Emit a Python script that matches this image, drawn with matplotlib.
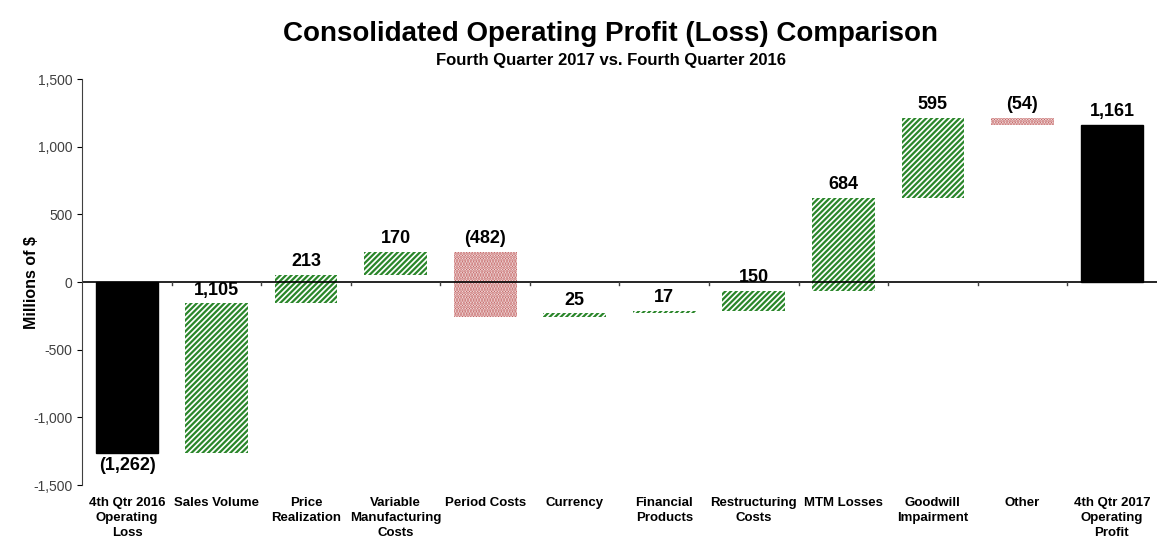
import numpy as np
import matplotlib.pyplot as plt

categories = ["4th Qtr 2016\nOperating\nLoss", "Sales Volume", "Price\nRealization",
              "Variable\nManufacturing\nCosts", "Period Costs", "Currency",
              "Financial\nProducts", "Restructuring\nCosts", "MTM Losses",
              "Goodwill\nImpairment", "Other", "4th Qtr 2017\nOperating\nProfit"]
changes = [-1262, 1105, 213, 170, -482, 25, 17, 150, 684, 595, -54, 1161]
labels = ["(1,262)", "1,105", "213", "170", "(482)", "25", "17", "150", "684",
          "595", "(54)", "1,161"]

plt.rcParams['font.family'] = ['Liberation Sans Narrow', 'Liberation Sans', 'DejaVu Sans']
plt.rcParams['hatch.linewidth'] = 1.6

fig = plt.figure(figsize=(11.59, 5.42), dpi=100)
ax = fig.add_axes([0.071, 0.105, 0.927, 0.749])

running = 0
for i, v in enumerate(changes):
    if i == 0 or i == len(changes) - 1:
        bottom, height = 0, v
        running = v
        ax.bar(i, height, bottom=bottom, width=0.7, color='black', edgecolor='black')
    else:
        bottom = running
        height = v
        running += v
        if v > 0:
            ax.bar(i, height, bottom=bottom, width=0.7, color='white',
                   edgecolor='#2a862a', hatch='//////', linewidth=0)
        else:
            ax.bar(i, height, bottom=bottom, width=0.7, color='white',
                   edgecolor='#c05a5a', hatch='......', linewidth=0)
    top = max(bottom, bottom + height)
    low = min(bottom, bottom + height)
    if i == 0:
        ax.text(i, low - 30, labels[i], ha='center', va='top', fontsize=13, fontweight='bold')
    else:
        ax.text(i, top + 35, labels[i], ha='center', va='bottom', fontsize=13, fontweight='bold')

ax.set_xlim(-0.5, len(categories) - 0.5)
ax.set_ylim(-1500, 1500)
ax.set_yticks(np.arange(-1500, 1501, 500))
ax.set_yticklabels([f"{t:,}" for t in range(-1500, 1501, 500)], family='Liberation Sans',
                   color='#404040', fontsize=10)
ax.set_ylabel("Millions of $", fontsize=11.5, fontweight='bold', labelpad=-4)

for s in ['top', 'right', 'bottom']:
    ax.spines[s].set_visible(False)
ax.spines['left'].set_color('#404040')
ax.axhline(0, color='black', linewidth=1.2)
ax.set_xticks([])
for b in np.arange(0.5, len(categories) - 0.5, 1):
    ax.plot([b, b], [0, -25], color='#404040', linewidth=1)
for i, c in enumerate(categories):
    ax.text(i, -1590, c, ha='center', va='top', fontsize=9.5, fontweight='bold',
            linespacing=1.3)

fig.text(0.527, 0.962, "Consolidated Operating Profit (Loss) Comparison", ha='center',
         va='top', fontsize=20, fontweight='bold')
fig.text(0.527, 0.902, "Fourth Quarter 2017 vs. Fourth Quarter 2016", ha='center',
         va='top', fontsize=12, fontweight='bold')

fig.savefig('out.png', dpi=100)
